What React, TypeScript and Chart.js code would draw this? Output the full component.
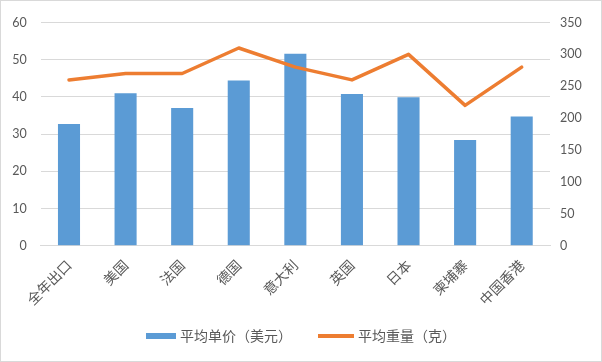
import React, { useEffect, useRef } from "react";
import { Chart, registerables } from "chart.js";

Chart.register(...registerables);

const categories = ["全年出口", "美国", "法国", "德国", "意大利", "英国", "日本", "柬埔寨", "中国香港"];
const unitPrice = [32.7, 41.0, 37.0, 44.4, 51.6, 40.8, 39.9, 28.4, 34.7];
const avgWeight = [260, 270, 270, 310, 280, 260, 300, 220, 280];
const leftTicks = { min: 0, max: 60, step: 10 };
const rightTicks = { min: 0, max: 350, step: 50 };
const seriesNames = ["平均单价（美元）", "平均重量（克）"];

const BLUE = "#5B9BD5";
const ORANGE = "#ED7D31";
const TEXT = "#595959";
const GRID = "#D9D9D9";
const FONT = "Lato, 'Noto Sans CJK SC', sans-serif";

const legendPlugin = {
  id: "customLegend",
  afterDraw(chart: any) {
    const ctx = chart.ctx as CanvasRenderingContext2D;
    const items = chart.data.datasets
      .map((d: any) => ({
        label: d.label as string,
        color: d.type === "line" ? d.borderColor : d.backgroundColor,
        isLine: d.type === "line",
        rank: d.legendRank as number,
      }))
      .sort((a: any, b: any) => a.rank - b.rank);
    ctx.save();
    ctx.font = "14px 'Noto Sans CJK SC', sans-serif";
    const boxW = 30;
    const lineW = 36;
    const gapBT = 4;
    const gapItems = 26;
    const widths = items.map((it: any) => (it.isLine ? lineW : boxW) + gapBT + ctx.measureText(it.label).width);
    const total = widths.reduce((a: number, b: number) => a + b, 0) + gapItems * (items.length - 1);
    let x = chart.width / 2 - total / 2;
    const cy = 335;
    items.forEach((it: any, i: number) => {
      ctx.fillStyle = it.color;
      const w = it.isLine ? lineW : boxW;
      if (it.isLine) {
        ctx.fillRect(x, cy - 2, w, 4);
      } else {
        ctx.fillRect(x, cy - 3, w, 6);
      }
      ctx.fillStyle = TEXT;
      ctx.textBaseline = "middle";
      ctx.textAlign = "left";
      ctx.fillText(it.label, x + w + gapBT, cy);
      x += widths[i] + gapItems;
    });
    ctx.restore();
  },
};

export default function App() {
  const ref = useRef<HTMLCanvasElement | null>(null);
  useEffect(() => {
    if (!ref.current) return;
    Chart.defaults.font.family = FONT;
    const chart = new Chart(ref.current, {
      type: "bar",
      data: {
        labels: categories,
        datasets: [
          {
            type: "line",
            label: seriesNames[1],
            data: avgWeight,
            borderColor: ORANGE,
            backgroundColor: ORANGE,
            borderWidth: 3.5,
            pointRadius: 0,
            tension: 0,
            borderJoinStyle: "round",
            borderCapStyle: "round",
            yAxisID: "y1",
            order: 0,
            legendRank: 1,
          } as any,
          {
            type: "bar",
            label: seriesNames[0],
            data: unitPrice,
            backgroundColor: BLUE,
            borderWidth: 0,
            barPercentage: 0.39,
            categoryPercentage: 1,
            yAxisID: "y",
            order: 1,
            legendRank: 0,
          } as any,
        ],
      },
      plugins: [legendPlugin],
      options: {
        animation: false,
        responsive: false,
        maintainAspectRatio: false,
        layout: { padding: { top: 18, left: 0, right: 0, bottom: 0 } },
        plugins: { legend: { display: false }, tooltip: { enabled: false } },
        scales: {
          x: {
            grid: { display: false, drawTicks: false },
            border: { display: true, color: GRID, width: 1 },
            ticks: {
              color: TEXT,
              font: { size: 14, family: "'Noto Sans CJK SC', sans-serif" },
              minRotation: 45,
              maxRotation: 45,
              autoSkip: false,
              padding: 11,
            },
            afterFit: (s: any) => {
              s.height = 115.3;
            },
          },
          y: {
            position: "left",
            min: leftTicks.min,
            max: leftTicks.max,
            ticks: { stepSize: leftTicks.step, color: TEXT, font: { size: 12.5 }, padding: 14 },
            grid: { color: GRID, drawTicks: false },
            border: { display: false },
            afterFit: (s: any) => {
              s.width = 39.7;
            },
          },
          y1: {
            position: "right",
            min: rightTicks.min,
            max: rightTicks.max,
            ticks: { stepSize: rightTicks.step, color: TEXT, font: { size: 12.5 }, padding: 10 },
            grid: { display: false, drawTicks: false },
            border: { display: false },
            afterFit: (s: any) => {
              s.width = 51;
            },
          },
        },
      } as any,
    });
    return () => chart.destroy();
  }, []);
  return (
    <div
      style={{
        position: "absolute",
        left: 0,
        top: 0,
        width: 602,
        height: 362,
        boxSizing: "border-box",
        border: "1px solid #D9D9D9",
        background: "#fff",
      }}
    >
      <canvas ref={ref} width={600} height={360} style={{ display: "block", width: 600, height: 360 }} />
    </div>
  );
}
